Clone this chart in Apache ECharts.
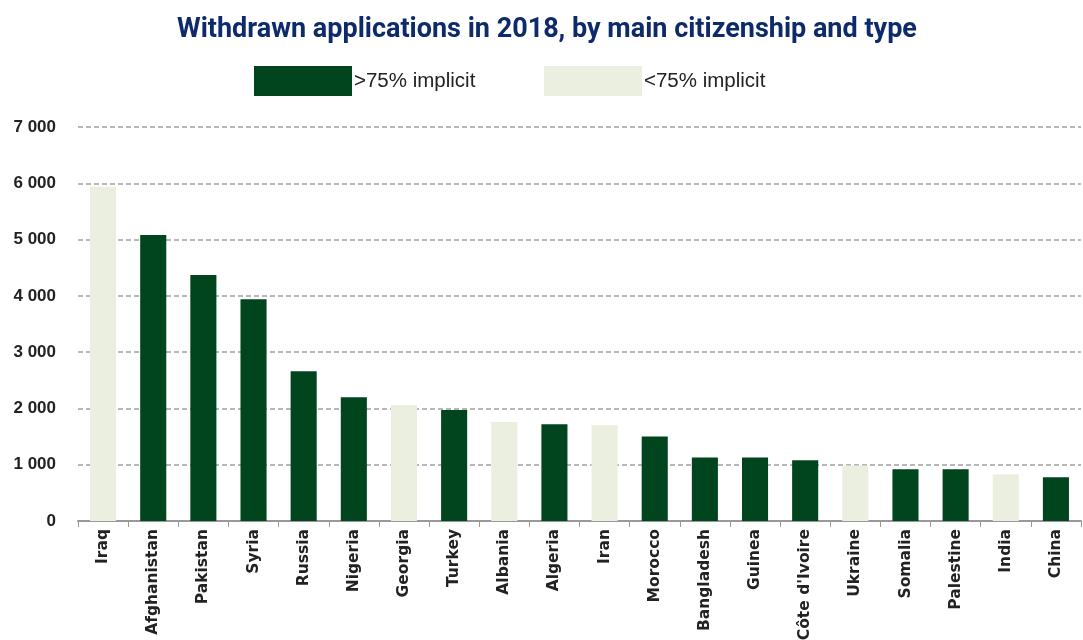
<!DOCTYPE html>
<html>
<head>
<meta charset="utf-8">
<script src="https://cdn.jsdelivr.net/npm/echarts@6/dist/echarts.min.js"></script>
<style>html,body{margin:0;padding:0;background:#fff;}#c{width:1083px;height:640px;}</style>
</head>
<body>
<div id="c"></div>
<script>
var categories = ['Iraq','Afghanistan','Pakistan','Syria','Russia','Nigeria','Georgia','Turkey','Albania','Algeria','Iran','Morocco','Bangladesh','Guinea',"Côte d'Ivoire",'Ukraine','Somalia','Palestine','India','China'];
var values = [5940,5080,4370,3940,2660,2200,2060,1970,1760,1720,1700,1500,1130,1130,1080,985,920,920,830,776];
var types = ['lt','gt','gt','gt','gt','gt','lt','gt','lt','gt','lt','gt','gt','gt','gt','lt','gt','gt','lt','gt'];
var yTicks = [0,1000,2000,3000,4000,5000,6000,7000];
var seriesNames = ['>75% implicit','<75% implicit'];

var dark = '#01451f', light = '#ebefdf';
var gtData = values.map(function(v,i){return types[i]==='gt'?v:'-';});
var ltData = values.map(function(v,i){return types[i]==='lt'?v:'-';});

var chart = echarts.init(document.getElementById('c'));
chart.setOption({
  animation:false,
  title:{text:'Withdrawn applications in 2018, by main citizenship and type',left:172,top:12,
    textStyle:{color:'#0d2a6a',fontSize:27,fontWeight:'bold',fontFamily:'Roboto'}},
  legend:[
    {data:[seriesNames[0]],left:249,top:61,itemWidth:98,itemHeight:30,icon:'rect',
     textStyle:{fontSize:20.5,color:'#222',fontFamily:'Liberation Sans',padding:[0,0,0,-3]}},
    {data:[seriesNames[1]],left:539,top:61,itemWidth:98,itemHeight:30,icon:'rect',
     textStyle:{fontSize:20.5,color:'#222',fontFamily:'Liberation Sans',padding:[0,0,0,-3]}}
  ],
  grid:{left:78,right:2,top:127,bottom:119,containLabel:false,outerBoundsMode:'none'},
  xAxis:{type:'category',data:categories,
    axisLine:{lineStyle:{color:'#999',width:2}},
    axisTick:{show:true,alignWithLabel:false,length:6,lineStyle:{color:'#999',width:1}},
    axisLabel:{rotate:90,interval:0,fontSize:15.5,fontWeight:'bold',color:'#222',fontFamily:'DejaVu Sans',margin:8}},
  yAxis:{type:'value',min:0,max:7000,interval:1000,
    axisLine:{show:false},axisTick:{show:false},
    splitLine:{lineStyle:{color:'#a0a0a0',type:[5,3],width:1.5}},
    axisLabel:{fontSize:17,fontWeight:'bold',color:'#222',fontFamily:'Liberation Sans',margin:22,
      formatter:function(v){return String(v).replace(/\B(?=(\d{3})+(?!\d))/g,' ');}}},
  series:[
    {name:seriesNames[0],type:'bar',stack:'t',data:gtData,barWidth:'52%',itemStyle:{color:dark}},
    {name:seriesNames[1],type:'bar',stack:'t',data:ltData,barWidth:'52%',itemStyle:{color:light}}
  ]
});
</script>
</body>
</html>
